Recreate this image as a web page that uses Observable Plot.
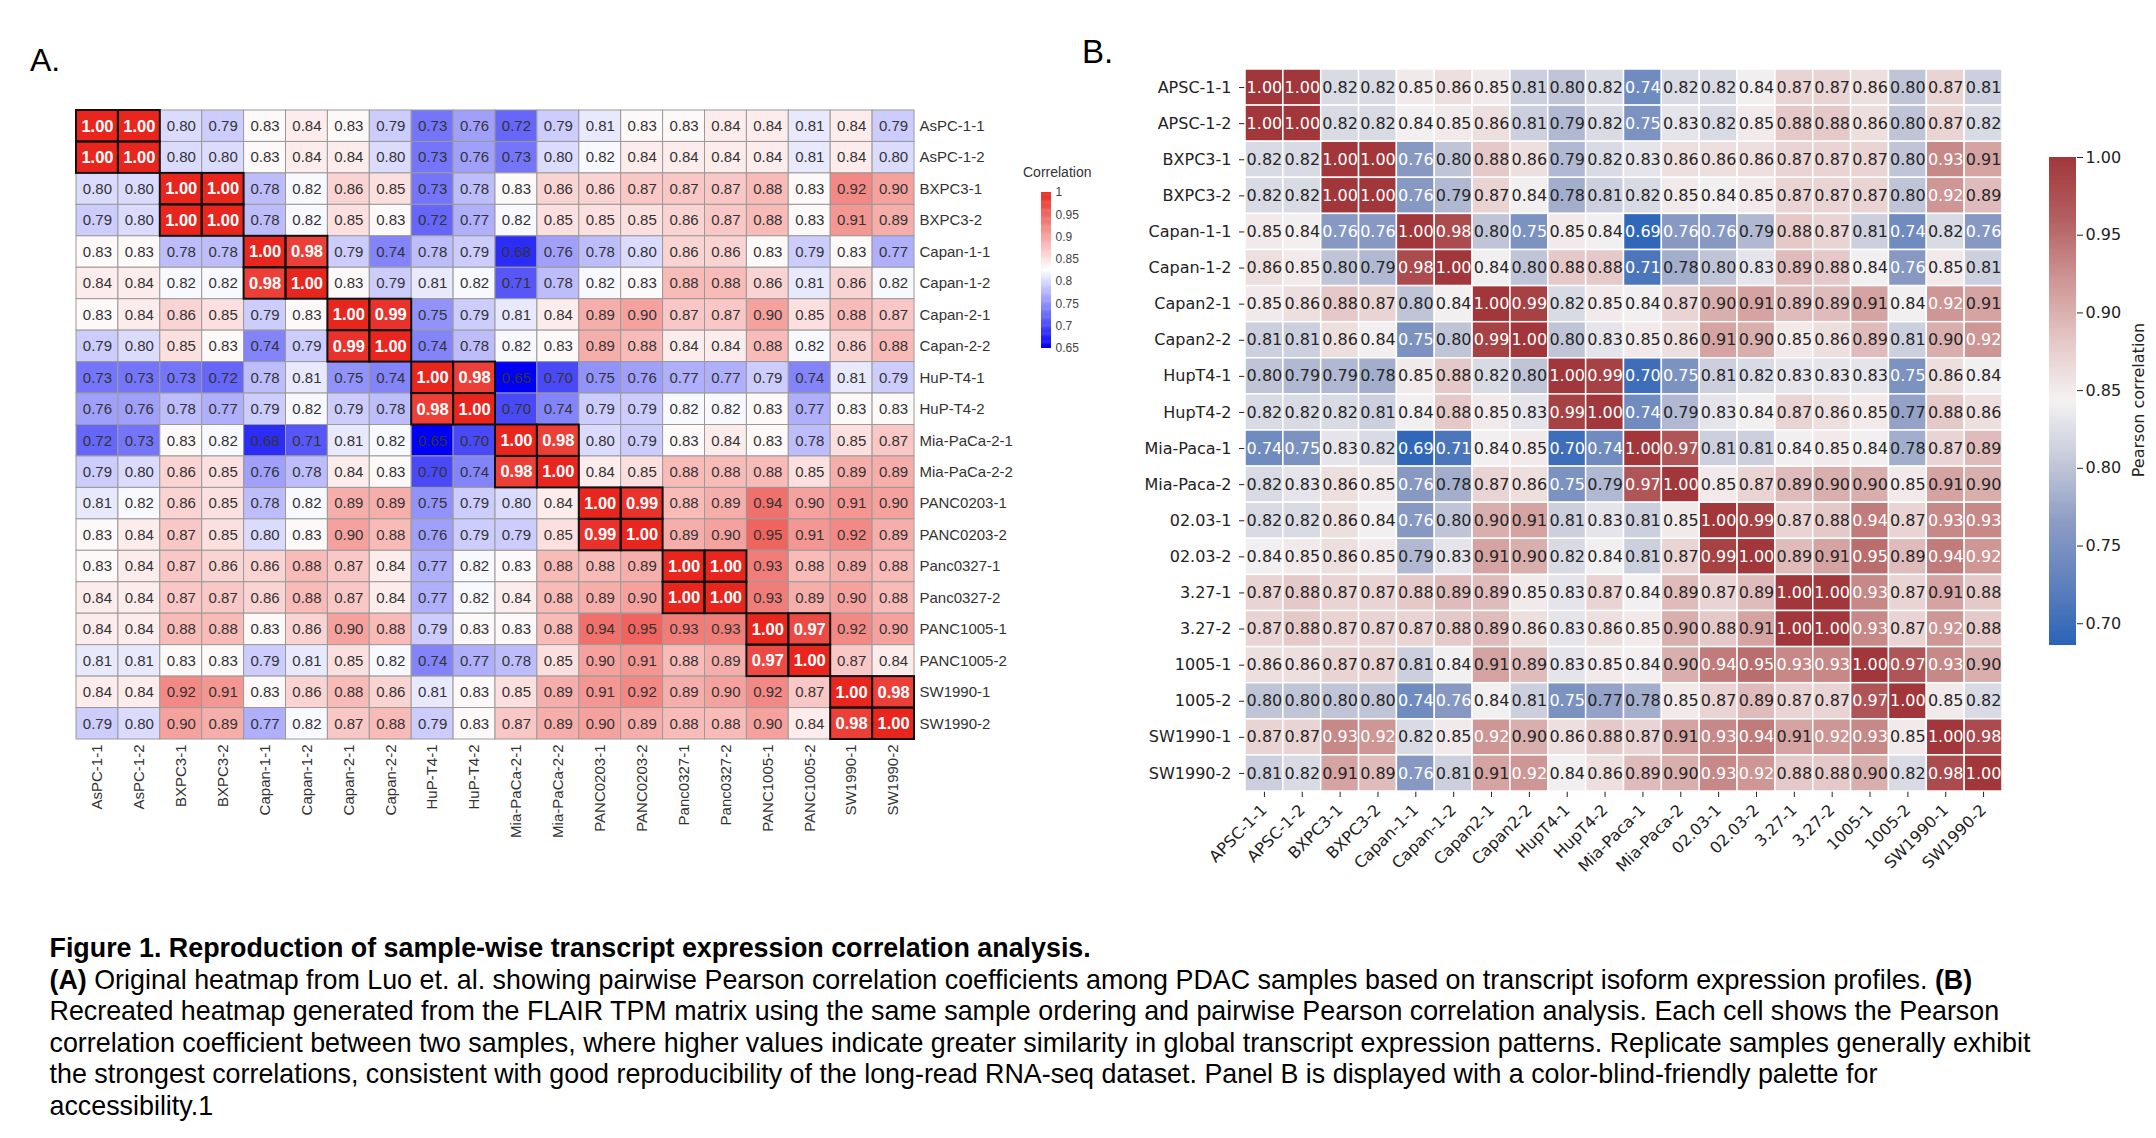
<!DOCTYPE html>
<html>
<head>
<meta charset="utf-8">
<script src="https://cdn.jsdelivr.net/npm/d3@7"></script>
<script src="https://cdn.jsdelivr.net/npm/@observablehq/plot@0.6"></script>
<style>
  html, body { margin: 0; padding: 0; background: #fff; }
  body { width: 2156px; height: 1138px; position: relative; overflow: hidden; }
  .panel { position: absolute; }
  #overlay { position: absolute; left: 0; top: 0; pointer-events: none; }
</style>
</head>
<body>
<div id="panelA" class="panel" style="left:0px;top:0px;width:1110px;"></div>
<div id="legendA" class="panel" style="left:1020px;top:0px;width:80px;"></div>
<div id="panelB" class="panel" style="left:1100px;top:0px;width:940px;"></div>
<div id="legendB" class="panel" style="left:2040px;top:0px;width:116px;"></div>
<svg id="overlay" width="2156" height="1138"></svg>
<script>
// Sample names, in heatmap order
const labelsA = ["AsPC-1-1", "AsPC-1-2", "BXPC3-1", "BXPC3-2", "Capan-1-1", "Capan-1-2",
  "Capan-2-1", "Capan-2-2", "HuP-T4-1", "HuP-T4-2", "Mia-PaCa-2-1", "Mia-PaCa-2-2",
  "PANC0203-1", "PANC0203-2", "Panc0327-1", "Panc0327-2", "PANC1005-1", "PANC1005-2",
  "SW1990-1", "SW1990-2"];
const labelsB = ["APSC-1-1", "APSC-1-2", "BXPC3-1", "BXPC3-2", "Capan-1-1", "Capan-1-2",
  "Capan2-1", "Capan2-2", "HupT4-1", "HupT4-2", "Mia-Paca-1", "Mia-Paca-2",
  "02.03-1", "02.03-2", "3.27-1", "3.27-2", "1005-1", "1005-2", "SW1990-1", "SW1990-2"];

// (A) Published correlation matrix (Luo et al.)
const corrA = [
  [1.00,1.00,0.80,0.79,0.83,0.84,0.83,0.79,0.73,0.76,0.72,0.79,0.81,0.83,0.83,0.84,0.84,0.81,0.84,0.79],
  [1.00,1.00,0.80,0.80,0.83,0.84,0.84,0.80,0.73,0.76,0.73,0.80,0.82,0.84,0.84,0.84,0.84,0.81,0.84,0.80],
  [0.80,0.80,1.00,1.00,0.78,0.82,0.86,0.85,0.73,0.78,0.83,0.86,0.86,0.87,0.87,0.87,0.88,0.83,0.92,0.90],
  [0.79,0.80,1.00,1.00,0.78,0.82,0.85,0.83,0.72,0.77,0.82,0.85,0.85,0.85,0.86,0.87,0.88,0.83,0.91,0.89],
  [0.83,0.83,0.78,0.78,1.00,0.98,0.79,0.74,0.78,0.79,0.68,0.76,0.78,0.80,0.86,0.86,0.83,0.79,0.83,0.77],
  [0.84,0.84,0.82,0.82,0.98,1.00,0.83,0.79,0.81,0.82,0.71,0.78,0.82,0.83,0.88,0.88,0.86,0.81,0.86,0.82],
  [0.83,0.84,0.86,0.85,0.79,0.83,1.00,0.99,0.75,0.79,0.81,0.84,0.89,0.90,0.87,0.87,0.90,0.85,0.88,0.87],
  [0.79,0.80,0.85,0.83,0.74,0.79,0.99,1.00,0.74,0.78,0.82,0.83,0.89,0.88,0.84,0.84,0.88,0.82,0.86,0.88],
  [0.73,0.73,0.73,0.72,0.78,0.81,0.75,0.74,1.00,0.98,0.65,0.70,0.75,0.76,0.77,0.77,0.79,0.74,0.81,0.79],
  [0.76,0.76,0.78,0.77,0.79,0.82,0.79,0.78,0.98,1.00,0.70,0.74,0.79,0.79,0.82,0.82,0.83,0.77,0.83,0.83],
  [0.72,0.73,0.83,0.82,0.68,0.71,0.81,0.82,0.65,0.70,1.00,0.98,0.80,0.79,0.83,0.84,0.83,0.78,0.85,0.87],
  [0.79,0.80,0.86,0.85,0.76,0.78,0.84,0.83,0.70,0.74,0.98,1.00,0.84,0.85,0.88,0.88,0.88,0.85,0.89,0.89],
  [0.81,0.82,0.86,0.85,0.78,0.82,0.89,0.89,0.75,0.79,0.80,0.84,1.00,0.99,0.88,0.89,0.94,0.90,0.91,0.90],
  [0.83,0.84,0.87,0.85,0.80,0.83,0.90,0.88,0.76,0.79,0.79,0.85,0.99,1.00,0.89,0.90,0.95,0.91,0.92,0.89],
  [0.83,0.84,0.87,0.86,0.86,0.88,0.87,0.84,0.77,0.82,0.83,0.88,0.88,0.89,1.00,1.00,0.93,0.88,0.89,0.88],
  [0.84,0.84,0.87,0.87,0.86,0.88,0.87,0.84,0.77,0.82,0.84,0.88,0.89,0.90,1.00,1.00,0.93,0.89,0.90,0.88],
  [0.84,0.84,0.88,0.88,0.83,0.86,0.90,0.88,0.79,0.83,0.83,0.88,0.94,0.95,0.93,0.93,1.00,0.97,0.92,0.90],
  [0.81,0.81,0.83,0.83,0.79,0.81,0.85,0.82,0.74,0.77,0.78,0.85,0.90,0.91,0.88,0.89,0.97,1.00,0.87,0.84],
  [0.84,0.84,0.92,0.91,0.83,0.86,0.88,0.86,0.81,0.83,0.85,0.89,0.91,0.92,0.89,0.90,0.92,0.87,1.00,0.98],
  [0.79,0.80,0.90,0.89,0.77,0.82,0.87,0.88,0.79,0.83,0.87,0.89,0.90,0.89,0.88,0.88,0.90,0.84,0.98,1.00]
];

// (B) Correlation matrix recomputed from the FLAIR TPM table
const corrB = [
  [1.00,1.00,0.82,0.82,0.85,0.86,0.85,0.81,0.80,0.82,0.74,0.82,0.82,0.84,0.87,0.87,0.86,0.80,0.87,0.81],
  [1.00,1.00,0.82,0.82,0.84,0.85,0.86,0.81,0.79,0.82,0.75,0.83,0.82,0.85,0.88,0.88,0.86,0.80,0.87,0.82],
  [0.82,0.82,1.00,1.00,0.76,0.80,0.88,0.86,0.79,0.82,0.83,0.86,0.86,0.86,0.87,0.87,0.87,0.80,0.93,0.91],
  [0.82,0.82,1.00,1.00,0.76,0.79,0.87,0.84,0.78,0.81,0.82,0.85,0.84,0.85,0.87,0.87,0.87,0.80,0.92,0.89],
  [0.85,0.84,0.76,0.76,1.00,0.98,0.80,0.75,0.85,0.84,0.69,0.76,0.76,0.79,0.88,0.87,0.81,0.74,0.82,0.76],
  [0.86,0.85,0.80,0.79,0.98,1.00,0.84,0.80,0.88,0.88,0.71,0.78,0.80,0.83,0.89,0.88,0.84,0.76,0.85,0.81],
  [0.85,0.86,0.88,0.87,0.80,0.84,1.00,0.99,0.82,0.85,0.84,0.87,0.90,0.91,0.89,0.89,0.91,0.84,0.92,0.91],
  [0.81,0.81,0.86,0.84,0.75,0.80,0.99,1.00,0.80,0.83,0.85,0.86,0.91,0.90,0.85,0.86,0.89,0.81,0.90,0.92],
  [0.80,0.79,0.79,0.78,0.85,0.88,0.82,0.80,1.00,0.99,0.70,0.75,0.81,0.82,0.83,0.83,0.83,0.75,0.86,0.84],
  [0.82,0.82,0.82,0.81,0.84,0.88,0.85,0.83,0.99,1.00,0.74,0.79,0.83,0.84,0.87,0.86,0.85,0.77,0.88,0.86],
  [0.74,0.75,0.83,0.82,0.69,0.71,0.84,0.85,0.70,0.74,1.00,0.97,0.81,0.81,0.84,0.85,0.84,0.78,0.87,0.89],
  [0.82,0.83,0.86,0.85,0.76,0.78,0.87,0.86,0.75,0.79,0.97,1.00,0.85,0.87,0.89,0.90,0.90,0.85,0.91,0.90],
  [0.82,0.82,0.86,0.84,0.76,0.80,0.90,0.91,0.81,0.83,0.81,0.85,1.00,0.99,0.87,0.88,0.94,0.87,0.93,0.93],
  [0.84,0.85,0.86,0.85,0.79,0.83,0.91,0.90,0.82,0.84,0.81,0.87,0.99,1.00,0.89,0.91,0.95,0.89,0.94,0.92],
  [0.87,0.88,0.87,0.87,0.88,0.89,0.89,0.85,0.83,0.87,0.84,0.89,0.87,0.89,1.00,1.00,0.93,0.87,0.91,0.88],
  [0.87,0.88,0.87,0.87,0.87,0.88,0.89,0.86,0.83,0.86,0.85,0.90,0.88,0.91,1.00,1.00,0.93,0.87,0.92,0.88],
  [0.86,0.86,0.87,0.87,0.81,0.84,0.91,0.89,0.83,0.85,0.84,0.90,0.94,0.95,0.93,0.93,1.00,0.97,0.93,0.90],
  [0.80,0.80,0.80,0.80,0.74,0.76,0.84,0.81,0.75,0.77,0.78,0.85,0.87,0.89,0.87,0.87,0.97,1.00,0.85,0.82],
  [0.87,0.87,0.93,0.92,0.82,0.85,0.92,0.90,0.86,0.88,0.87,0.91,0.93,0.94,0.91,0.92,0.93,0.85,1.00,0.98],
  [0.81,0.82,0.91,0.89,0.76,0.81,0.91,0.92,0.84,0.86,0.89,0.90,0.93,0.92,0.88,0.88,0.90,0.82,0.98,1.00]
];

// Colour-bar ticks
const ticksA = [1, 0.95, 0.9, 0.85, 0.8, 0.75, 0.7, 0.65];
const ticksB = [0.70, 0.75, 0.80, 0.85, 0.90, 0.95, 1.00];

const fontA = "'Liberation Sans', Arial, Helvetica, sans-serif";
const fontB = "'DejaVu Sans', Verdana, sans-serif";
const fmt2 = d3.format(".2f");

function tidy(labels, m) {
  return m.flatMap((row, i) => row.map((v, j) => ({row: labels[i], col: labels[j], v})));
}

// Blue-white-red ramp of the published heatmap
const loA = 0.65, hiA = 1;
const rampA = d3.scaleLinear()
  .domain([0.65, 0.825, 1])
  .range(["#0000f5", "#ffffff", "#e8261e"])
  .interpolate(d3.interpolateRgb).clamp(true);
const colorA = {type: "linear", domain: [loA, hiA], interpolate: t => rampA(loA + t * (hiA - loA))};

// Colour-blind-friendly blue-grey-red ramp (vlag-like)
const loB = 0.686, hiB = 1;
const rampB = d3.scaleLinear()
  .domain([0.686, 0.72, 0.7645, 0.80, 0.843, 0.88, 0.9215, 0.96, 1])
  .range(["#2a64b8", "#5a7dbc", "#8c9cc4", "#bfc5d7", "#f5f2f2", "#e5c9c8", "#cd9493", "#b45f60", "#a1373b"])
  .interpolate(d3.interpolateRgb).clamp(true);
const colorB = {type: "linear", domain: [loB, hiB], interpolate: t => rampB(loB + t * (hiB - loB))};

// ---- Panel A heatmap ----
const cellsA = tidy(labelsA, corrA);
const highA = cellsA.filter(d => d.v >= 0.965);
const restA = cellsA.filter(d => d.v < 0.965);
const plotA = Plot.plot({
  width: 1110, height: 850,
  marginLeft: 76, marginRight: 196, marginTop: 110, marginBottom: 111,
  style: {fontFamily: fontA, fontSize: "15px", color: "#333", background: "transparent"},
  x: {domain: labelsA, padding: 0, round: false, tickRotate: -90, tickSize: 0, tickPadding: 5, label: null},
  y: {domain: labelsA, padding: 0, round: false, axis: "right", tickSize: 0, tickPadding: 5, label: null},
  color: colorA,
  marks: [
    Plot.cell(cellsA, {x: "col", y: "row", fill: "v", stroke: "#9a9a9a", strokeWidth: 1}),
    Plot.cell(highA, {x: "col", y: "row", fill: "none", stroke: "#111", strokeWidth: 2}),
    Plot.text(restA, {x: "col", y: "row", text: d => fmt2(d.v), fill: "#333", fontSize: 15}),
    Plot.text(highA, {x: "col", y: "row", text: d => fmt2(d.v), fill: "white", fontSize: 16.5, fontWeight: "bold"})
  ]
});
document.getElementById("panelA").append(plotA);

// ---- Panel A colour bar ----
const rampStepsA = d3.range(loA, hiA, 0.002);
const legA = Plot.plot({
  width: 80, height: 400,
  marginLeft: 21, marginRight: 49, marginTop: 192, marginBottom: 52,
  style: {fontFamily: fontA, fontSize: "12px", color: "#444", background: "transparent"},
  x: {domain: [0, 1], axis: null},
  y: {domain: [loA, hiA], axis: "right", ticks: ticksA, tickFormat: d3.format("~g"), tickSize: 0, tickPadding: 4, label: null},
  color: colorA,
  marks: [
    Plot.rect(rampStepsA, {x1: 0, x2: 1, y1: d => d, y2: d => Math.min(hiA, d + 0.003), fill: d => d})
  ]
});
document.getElementById("legendA").append(legA);

// ---- Panel B heatmap ----
const cellsB = tidy(labelsB, corrB);
const lightB = cellsB.filter(d => d.v > 0.765 && d.v < 0.915);
const darkB = cellsB.filter(d => d.v <= 0.765 || d.v >= 0.915);
const plotB = Plot.plot({
  width: 940, height: 900,
  marginLeft: 145, marginRight: 38, marginTop: 69, marginBottom: 109,
  style: {fontFamily: fontB, fontSize: "16px", color: "#222", background: "transparent"},
  x: {domain: labelsB, padding: 0, round: false, tickRotate: -45, tickSize: 6, tickPadding: 10, label: null},
  y: {domain: labelsB, padding: 0, round: false, tickSize: 6, tickPadding: 8, label: null},
  color: colorB,
  marks: [
    Plot.cell(cellsB, {x: "col", y: "row", fill: "v", stroke: "white", strokeWidth: 1.5}),
    Plot.text(lightB, {x: "col", y: "row", text: d => fmt2(d.v), fill: "#262626", fontSize: 16}),
    Plot.text(darkB, {x: "col", y: "row", text: d => fmt2(d.v), fill: "white", fontSize: 16})
  ]
});
document.getElementById("panelB").append(plotB);

// ---- Panel B colour bar ----
const rampStepsB = d3.range(loB, hiB, 0.001);
const legB = Plot.plot({
  width: 116, height: 700,
  marginLeft: 9, marginRight: 80, marginTop: 157, marginBottom: 55,
  style: {fontFamily: fontB, fontSize: "16px", color: "#222", background: "transparent"},
  x: {domain: [0, 1], axis: null},
  y: {domain: [loB, hiB], axis: "right", ticks: ticksB, tickFormat: ".2f", tickSize: 6, tickPadding: 3, label: null},
  color: colorB,
  marks: [
    Plot.rect(rampStepsB, {x1: 0, x2: 1, y1: d => d, y2: d => Math.min(hiB, d + 0.0015), fill: d => d})
  ]
});
document.getElementById("legendB").append(legB);

// ---- Panel letters, legend titles and figure caption ----
const svg = d3.select("#overlay");
svg.append("text").attr("x", 30).attr("y", 71).attr("font-family", fontA).attr("font-size", 32).text("A.");
svg.append("text").attr("x", 1082).attr("y", 63).attr("font-family", fontA).attr("font-size", 33).text("B.");
svg.append("text").attr("x", 1023).attr("y", 177).attr("font-family", fontA).attr("font-size", 14).attr("fill", "#333").text("Correlation");
svg.append("text").attr("transform", "translate(2144,400) rotate(-90)").attr("text-anchor", "middle")
  .attr("font-family", fontB).attr("font-size", 16).attr("fill", "#222").text("Pearson correlation");

const captionLines = [
  [["Figure 1. Reproduction of sample-wise transcript expression correlation analysis.", true]],
  [["(A)", true], [" Original heatmap from Luo et. al. showing pairwise Pearson correlation coefficients among PDAC samples based on transcript isoform expression profiles. ", false], ["(B)", true]],
  [["Recreated heatmap generated from the FLAIR TPM matrix using the same sample ordering and pairwise Pearson correlation analysis. Each cell shows the Pearson", false]],
  [["correlation coefficient between two samples, where higher values indicate greater similarity in global transcript expression patterns. Replicate samples generally exhibit", false]],
  [["the strongest correlations, consistent with good reproducibility of the long-read RNA-seq dataset. Panel B is displayed with a color-blind-friendly palette for", false]],
  [["accessibility.1", false]]
];
// size the caption so the full-width line spans the text block
const ctx = document.createElement("canvas").getContext("2d");
ctx.font = `24px ${fontA}`;
const w3 = ctx.measureText(captionLines[2][0][0]).width;
const capSize = 24 * 1951 / w3;
captionLines.forEach((parts, i) => {
  const t = svg.append("text").attr("x", 49.5).attr("y", 957 + i * 31.6)
    .attr("font-family", fontA).attr("font-size", capSize).attr("fill", "#000");
  parts.forEach(([s, bold]) => t.append("tspan").attr("font-weight", bold ? "bold" : "normal").text(s));
});
</script>
</body>
</html>
